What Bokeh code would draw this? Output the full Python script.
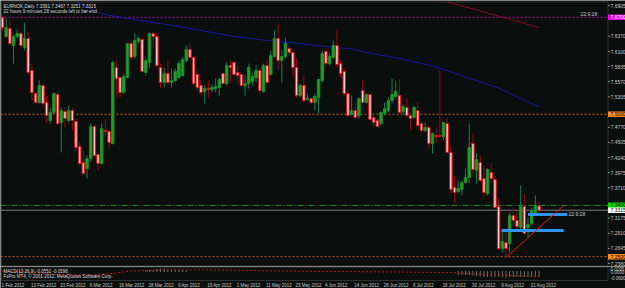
from bokeh.plotting import figure
from bokeh.models import Range1d, BoxAnnotation, ColumnDataSource
from bokeh.layouts import column
from bokeh.embed import file_html
from bokeh.resources import INLINE
from bokeh.core.properties import value

BG = "#0a0e0c"
FONT = value("Liberation Sans")
TXT = "#c8c8c8"
GRID = "#8c8c8c"

# ---- EURNOK daily candles, bar 0 = 1 Feb 2012 ----
opens = [
    7.6697, 7.6364, 7.6504, 7.6206, 7.6364, 7.6416, 7.6171, 7.6329, 7.5767, 7.5363,
    7.5206, 7.5504, 7.5206, 7.4890, 7.5030, 7.5346, 7.4855, 7.5048, 7.4890, 7.5065,
    7.4872, 7.4434, 7.4153, 7.4048, 7.4223, 7.4785, 7.4293, 7.4135, 7.4714, 7.4697,
    7.4486, 7.5819, 7.5644, 7.5381, 7.5644, 7.6241, 7.6013, 7.6276, 7.6311, 7.5732,
    7.5907, 7.6416, 7.6364, 7.5819, 7.5556, 7.5714, 7.5556, 7.5591, 7.5644, 7.5679,
    7.5942, 7.6135, 7.5995, 7.5697, 7.5504, 7.5398, 7.5451, 7.5434, 7.5451, 7.5469,
    7.5714, 7.5539, 7.5854, 7.5907, 7.5732, 7.5697, 7.5504, 7.5539, 7.5574, 7.5644,
    7.5767, 7.5398, 7.5854, 7.5697, 7.6013, 7.6329, 7.5942, 7.6013, 7.6153, 7.6083,
    7.5819, 7.5328, 7.5504, 7.5258, 7.5276, 7.5206, 7.5293, 7.5591, 7.6100, 7.5889,
    7.5995, 7.6206, 7.5889, 7.5749, 7.5363, 7.4995, 7.5065, 7.4978, 7.5416, 7.5206,
    7.5346, 7.4942, 7.4890, 7.4837, 7.5013, 7.5065, 7.5241, 7.5311, 7.5328, 7.5048,
    7.5118, 7.4978, 7.4942, 7.5065, 7.4837, 7.4714, 7.4767, 7.4486, 7.4627, 7.4627,
    7.4609, 7.4837, 7.4328, 7.3714, 7.3644, 7.3679, 7.3802, 7.3890, 7.4486, 7.4012,
    7.4153, 7.3872, 7.3609, 7.3977, 7.3855, 7.3381, 7.2644, 7.2749, 7.2732, 7.3223,
    7.3135, 7.3013, 7.3381, 7.3013, 7.3083, 7.3276, 7.3391]
highs = [
    7.6732, 7.6679, 7.6644, 7.6399, 7.6486, 7.6451, 7.6609, 7.6434, 7.5889, 7.5398,
    7.5591, 7.5539, 7.5328, 7.5100, 7.5381, 7.5381, 7.5118, 7.5118, 7.5153, 7.5118,
    7.4925, 7.4504, 7.4363, 7.4276, 7.4837, 7.4820, 7.4328, 7.4837, 7.4907, 7.4714,
    7.5942, 7.5942, 7.5661, 7.5714, 7.6241, 7.6293, 7.6416, 7.6364, 7.6346, 7.5995,
    7.6434, 7.6434, 7.6434, 7.5889, 7.5819, 7.5942, 7.5802, 7.5802, 7.5942, 7.5995,
    7.6206, 7.6241, 7.6030, 7.5767, 7.5591, 7.5504, 7.5591, 7.5521, 7.5626, 7.5644,
    7.5732, 7.5907, 7.5942, 7.5942, 7.5854, 7.5714, 7.5679, 7.5889, 7.5732, 7.5854,
    7.5819, 7.5889, 7.5977, 7.6118, 7.6469, 7.6591, 7.6118, 7.6346, 7.6188, 7.6118,
    7.5977, 7.5539, 7.5679, 7.5363, 7.5293, 7.5363, 7.5626, 7.6118, 7.6153, 7.6065,
    7.6293, 7.6469, 7.5942, 7.5802, 7.5416, 7.5328, 7.5206, 7.5293, 7.5591, 7.5363,
    7.5363, 7.4978, 7.4925, 7.5048, 7.5206, 7.5293, 7.5626, 7.5591, 7.5609, 7.5171,
    7.5276, 7.5013, 7.5153, 7.5206, 7.4872, 7.4855, 7.4802, 7.4679, 7.4767, 7.5767,
    7.4872, 7.4942, 7.4451, 7.3925, 7.3837, 7.3837, 7.4048, 7.4837, 7.4662, 7.4311,
    7.4276, 7.4100, 7.4048, 7.4135, 7.3925, 7.3521, 7.2960, 7.2925, 7.3276, 7.3346,
    7.3311, 7.3749, 7.3609, 7.3188, 7.3363, 7.3574, 7.3467]
lows = [
    7.6469, 7.6346, 7.6206, 7.5889, 7.6329, 7.6171, 7.6118, 7.5697, 7.5241, 7.5171,
    7.5188, 7.5153, 7.4837, 7.4837, 7.4995, 7.4802, 7.4328, 7.4767, 7.4855, 7.4714,
    7.4363, 7.4100, 7.3942, 7.3872, 7.4170, 7.4241, 7.4012, 7.4118, 7.4627, 7.4398,
    7.4469, 7.5293, 7.5293, 7.5363, 7.5626, 7.5942, 7.5977, 7.6241, 7.5732, 7.5679,
    7.5819, 7.6171, 7.5819, 7.5451, 7.5469, 7.5521, 7.5469, 7.5556, 7.5626, 7.5661,
    7.5907, 7.5977, 7.5504, 7.5416, 7.5328, 7.5188, 7.5293, 7.5381, 7.5381, 7.5328,
    7.5521, 7.5504, 7.5556, 7.5679, 7.5539, 7.5486, 7.5328, 7.5451, 7.5504, 7.5556,
    7.5363, 7.5381, 7.5539, 7.5679, 7.5995, 7.5767, 7.5556, 7.5977, 7.6048, 7.5679,
    7.5293, 7.5293, 7.5206, 7.5241, 7.5171, 7.5065, 7.5013, 7.5556, 7.5854, 7.5854,
    7.5977, 7.5819, 7.5644, 7.5328, 7.4960, 7.4978, 7.4925, 7.4925, 7.5188, 7.5188,
    7.4890, 7.4767, 7.4767, 7.4802, 7.4978, 7.5030, 7.5188, 7.5293, 7.5013, 7.4978,
    7.4942, 7.4714, 7.4925, 7.4785, 7.4679, 7.4679, 7.4398, 7.4311, 7.4504, 7.4592,
    7.4539, 7.4311, 7.3609, 7.3451, 7.3609, 7.3574, 7.3784, 7.3784, 7.3960, 7.3784,
    7.3802, 7.3539, 7.3574, 7.3802, 7.3346, 7.2609, 7.2574, 7.2486, 7.2574, 7.3048,
    7.2960, 7.2960, 7.2890, 7.2837, 7.3048, 7.3258, 7.3251]
closes = [
    7.6521, 7.6521, 7.6241, 7.6364, 7.6416, 7.6206, 7.6329, 7.5732, 7.5381, 7.5206,
    7.5504, 7.5188, 7.4978, 7.5030, 7.5363, 7.4837, 7.5065, 7.4925, 7.5065, 7.4890,
    7.4416, 7.4135, 7.3960, 7.4223, 7.4785, 7.4276, 7.4135, 7.4749, 7.4697, 7.4504,
    7.5907, 7.5626, 7.5381, 7.5661, 7.6241, 7.5995, 7.6293, 7.6329, 7.5749, 7.5942,
    7.6416, 7.6364, 7.5854, 7.5556, 7.5714, 7.5556, 7.5591, 7.5749, 7.5889, 7.5960,
    7.6135, 7.5995, 7.5539, 7.5469, 7.5381, 7.5451, 7.5434, 7.5469, 7.5486, 7.5609,
    7.5539, 7.5854, 7.5819, 7.5697, 7.5679, 7.5504, 7.5539, 7.5819, 7.5661, 7.5767,
    7.5416, 7.5854, 7.5556, 7.6030, 7.6329, 7.5942, 7.6013, 7.6241, 7.6083, 7.5819,
    7.5328, 7.5504, 7.5241, 7.5276, 7.5206, 7.5311, 7.5609, 7.6065, 7.5889, 7.6013,
    7.6206, 7.5872, 7.5714, 7.5363, 7.4978, 7.5065, 7.4942, 7.5276, 7.5206, 7.5346,
    7.4907, 7.4855, 7.4785, 7.5030, 7.5100, 7.5241, 7.5346, 7.5398, 7.5030, 7.5135,
    7.4978, 7.4925, 7.5118, 7.4802, 7.4714, 7.4767, 7.4486, 7.4662, 7.4609, 7.4609,
    7.4855, 7.4328, 7.3679, 7.3627, 7.3697, 7.3802, 7.3890, 7.4416, 7.4030, 7.4206,
    7.3837, 7.3627, 7.4030, 7.3872, 7.3363, 7.2644, 7.2767, 7.2644, 7.3223, 7.3135,
    7.3030, 7.3381, 7.2907, 7.3065, 7.3311, 7.3398, 7.3315]

# moving averages (bar index, price)
ma_blue_idx = [20, 27, 30, 38, 46, 54, 63, 72, 81, 90, 95, 99, 108, 116, 119, 127, 135, 141, 146]
ma_blue_val = [7.6975, 7.6765, 7.6725, 7.6640, 7.6560, 7.6469, 7.6364, 7.6293, 7.6241, 7.6171,
               7.6150, 7.6085, 7.5977, 7.5860, 7.5805, 7.5630, 7.5460, 7.5276, 7.5130]
ma_red_idx = [121, 128, 135, 141, 146]
ma_red_val = [7.6965, 7.6849, 7.6720, 7.6614, 7.6515]

# drawn objects (bar index, price)
trend_idx = [137, 152.7]
trend_val = [7.2486, 7.3398]
rect_left = [135.8, 143.0]
rect_right = [152.7, 153.7]
rect_price = [7.2960, 7.3241]
rect_half = 0.0026

# horizontal levels
level_vals = [7.6700, 7.5000, 7.3400, 7.2500]
level_colors = ["#b400b4", "#c8640f", "#2a8a2a", "#c8640f"]
level_dash = ["2 2", "2 2", "6 2 1 2", "2 2"]
bid = 7.3315

tag_vals = [7.6700, 7.5000, 7.3400, 7.3315, 7.2500]
tag_text = ["7.6700", "7.5000", "7.3400", "7.3315", "7.2500"]
tag_colors = ["#e600e6", "#ff8c1a", "#00dd00", "#ffffff", "#ff8c1a"]
tag_text_colors = ["#ffffff", "#000000", "#000000", "#000000", "#000000"]

price_ticks = [7.2380, 7.2645, 7.2910, 7.3175, 7.3710, 7.3975, 7.4240, 7.4505,
               7.4770, 7.5305, 7.5570, 7.5835, 7.6100, 7.6370, 7.6905]
price_tick_labels = ["7.2380", "7.2645", "7.2910", "7.3175", "7.3710", "7.3975", "7.4240", "7.4505",
                     "7.4770", "7.5305", "7.5570", "7.5835", "7.6100", "7.6370", "7.6905"]

date_tick_idx = [0, 8, 16, 24, 32, 40, 48, 56, 64, 72, 80, 88, 96, 104, 112, 120, 128, 136, 144]
date_tick_labels = ["1 Feb 2012", "13 Feb 2012", "23 Feb 2012", "6 Mar 2012", "16 Mar 2012",
                    "28 Mar 2012", "9 Apr 2012", "19 Apr 2012", "1 May 2012", "11 May 2012",
                    "23 May 2012", "4 Jun 2012", "14 Jun 2012", "26 Jun 2012", "6 Jul 2012",
                    "18 Jul 2012", "30 Jul 2012", "9 Aug 2012", "21 Aug 2012"]

# MACD panel
sig_idx = [0, 6, 14, 24, 30, 35, 45, 54, 68, 81, 100, 122, 131, 146]
sig_val = [0.003, 0.0, -0.030, -0.035, -0.020, 0.005, 0.017, 0.017, 0.010, 0.003,
           -0.003, -0.010, -0.030, -0.052]
hist_idx = list(range(39, 51)) + list(range(124, 147))
hist_val = [0.010, 0.015, 0.020, 0.025, 0.027, 0.027, 0.025, 0.024, 0.022, 0.020, 0.018, 0.015,
            -0.030, -0.035, -0.038, -0.040, -0.042, -0.045, -0.047, -0.050, -0.052, -0.054,
            -0.056, -0.060, -0.062, -0.064, -0.062, -0.060, -0.060, -0.058, -0.058, -0.056,
            -0.055, -0.054, -0.053]
macd_ticks = [0.03, 0.0, -0.06]
macd_tick_labels = ["0.0295", "0.0000", "-0.0600"]

# ---------------------------------------------------------------
# layout geometry: the terminal draws bars every 3.675 px, bar 0 at x = 2 px
PITCH = 3.675
PX_PER_PRICE = 570.0          # main panel
PRICE_AT_TOP = 7.6995         # price at canvas y = 0
MACD_PER_PX = 0.01            # MACD panel
MACD_AT_TOP = 0.05            # MACD value at top of its panel


def bx(px):
    return (px - 2) / PITCH


def py(pix):
    return PRICE_AT_TOP - pix / PX_PER_PRICE


def my(pix):
    return MACD_AT_TOP - pix * MACD_PER_PX


W, H1, H2 = 625, 266, 22
xr = Range1d(bx(0), bx(W))
AXIS_X = bx(607.5)

n = len(opens)
idx = list(range(n))
up = [c >= o for o, c in zip(opens, closes)]
src = ColumnDataSource(dict(
    x=idx, h=highs, l=lows,
    top=[max(o, c) for o, c in zip(opens, closes)],
    bottom=[min(o, c) for o, c in zip(opens, closes)],
    fill=["#22a022" if u else "#ffc8c8" for u in up],
    edge=["#1c8a2c" if u else "#d01818" for u in up],
    wick=["#13805a" if u else "#960a14" for u in up],
))

p = figure(width=W, height=H1, x_range=xr, y_range=Range1d(py(H1), py(0)),
           output_backend="svg", toolbar_location=None, tools="",
           x_axis_location=None, y_axis_location=None,
           min_border=0, background_fill_color=BG, border_fill_color=BG,
           outline_line_color=None)
p.grid.visible = False

# chart border
p.add_layout(BoxAnnotation(left=bx(1), right=AXIS_X, top=py(1.5), bottom=py(265.5),
                           fill_alpha=0, line_color=GRID, line_width=1))

# level lines
for v, c, d in zip(level_vals, level_colors, level_dash):
    p.segment(x0=[bx(0)], y0=[v], x1=[AXIS_X], y1=[v], line_color=c, line_dash=d, line_width=1)
p.segment(x0=[bx(1)], y0=[bid], x1=[AXIS_X], y1=[bid], line_color="#7a7a7a", line_width=1)

# moving averages
p.line(ma_blue_idx, ma_blue_val, line_color="#1818a8", line_width=1)
p.line(ma_red_idx, ma_red_val, line_color="#8c0a20", line_width=1)

# candles
p.segment(x0="x", y0="l", x1="x", y1="h", source=src, line_color="wick", line_width=1)
p.vbar(x="x", width=0.68, top="top", bottom="bottom", source=src,
       fill_color="fill", line_color="edge", line_width=1)

# objects
p.quad(left=rect_left, right=rect_right,
       top=[v + rect_half for v in rect_price], bottom=[v - rect_half for v in rect_price],
       fill_color="#2f95f0", line_color=None)
p.line(trend_idx, trend_val, line_color="#e81414", line_width=1)

# price scale on the right
p.segment(x0=[AXIS_X] * len(price_ticks), y0=price_ticks, x1=[bx(609.5)] * len(price_ticks),
          y1=price_ticks, line_color=GRID, line_width=1)
p.text(x=[bx(610)] * len(price_ticks), y=price_ticks, text=price_tick_labels,
       text_font=FONT, text_font_size="5px", text_color=TXT, text_baseline="middle", text_align="left")
tag_h = 2.8 / PX_PER_PRICE
p.quad(left=[AXIS_X] * len(tag_vals), right=[bx(W + 2)] * len(tag_vals),
       top=[v + tag_h for v in tag_vals], bottom=[v - tag_h for v in tag_vals],
       fill_color=tag_colors, line_color=None)
p.text(x=[bx(610)] * len(tag_vals), y=tag_vals, text=tag_text, text_font=FONT,
       text_font_size="5px", text_color=tag_text_colors, text_baseline="middle", text_align="left")

# texts
p.text(x=[bx(3), bx(3)], y=[py(3.0), py(8.2)],
       text=["EURNOK,Daily  7.3391 7.3467 7.3251 7.3315",
             "22 hours 9 minutes 28 seconds left to bar end"],
       text_font=FONT, text_font_size="4.6px", text_color="#dcdcdc", text_baseline="top")
p.text(x=[bx(580)], y=[py(16)], text=["22:9:28"], text_font=FONT, text_font_size="5px",
       text_color=TXT, text_baseline="bottom")
p.text(x=[bx(568)], y=[py(213)], text=["22:9:28"], text_font=FONT, text_font_size="5px",
       text_color=TXT, text_baseline="middle")

# ---- MACD panel ----
p2 = figure(width=W, height=H2, x_range=xr, y_range=Range1d(my(H2), my(0)),
            output_backend="svg", toolbar_location=None, tools="",
            x_axis_location=None, y_axis_location=None,
            min_border=0, background_fill_color=BG, border_fill_color=BG,
            outline_line_color=None)
p2.grid.visible = False

p2.add_layout(BoxAnnotation(left=bx(1), right=AXIS_X, top=my(0.5), bottom=my(14),
                            fill_alpha=0, line_color=GRID, line_width=1))

p2.segment(x0=hist_idx, y0=[0] * len(hist_idx), x1=hist_idx, y1=hist_val,
           line_color="#d0d0d0", line_width=1, line_dash="1 1")
p2.line(sig_idx, sig_val, line_color="#c81414", line_width=1, line_dash="2 2")

p2.text(x=[bx(3), bx(3)], y=[my(2), my(7)],
        text=["MACD(12,26,9) -0.0552 -0.0598",
              "FxPro MT4, © 2001-2012, MetaQuotes Software Corp."],
        text_font=FONT, text_font_size="4.5px", text_color="#dcdcdc", text_baseline="top")

p2.text(x=[bx(610)] * len(macd_ticks), y=macd_ticks, text=macd_tick_labels,
        text_font=FONT, text_font_size="4.5px", text_color=TXT, text_baseline="middle",
        text_align="left")

# time scale
p2.text(x=date_tick_idx, y=[my(16)] * len(date_tick_idx), text=date_tick_labels,
        text_font=FONT, text_font_size="4.5px", text_color=TXT, text_baseline="top",
        text_align="left", x_offset=-1)

layout = column(p, p2, spacing=0)
open("out.html", "w").write(file_html(layout, INLINE))
